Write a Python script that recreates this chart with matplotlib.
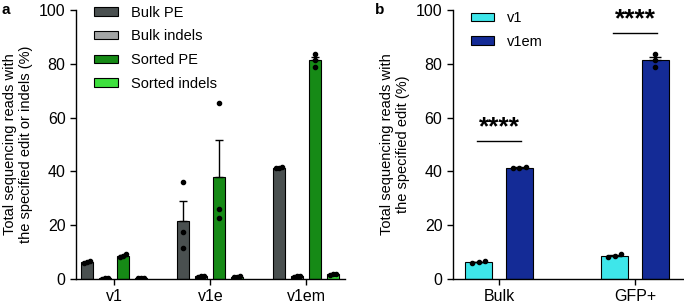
import numpy as np
import matplotlib.pyplot as plt

plt.rcParams['font.family'] = ['Liberation Sans', 'DejaVu Sans']
plt.rcParams['font.size'] = 10.5

# panel a data (replicates)
groups_a = ['v1', 'v1e', 'v1em']
series_a = ['Bulk PE', 'Bulk indels', 'Sorted PE', 'Sorted indels']
colors_a = ['#4a5050', '#a3a5a5', '#168a16', '#3ee03e']
reps_a = {
    'Bulk PE': [[5.8, 6.2, 6.6], [36.1, 17.5, 11.5], [41.1, 41.4, 41.7]],
    'Bulk indels': [[0.2, 0.3, 0.3], [0.8, 1.0, 1.1], [0.9, 1.0, 1.1]],
    'Sorted PE': [[8.1, 8.7, 9.3], [65.3, 26.2, 22.7], [83.6, 81.4, 78.9]],
    'Sorted indels': [[0.3, 0.4, 0.5], [0.7, 0.9, 1.1], [1.6, 1.8, 1.9]],
}

# panel b data (replicates)
groups_b = ['Bulk', 'GFP+']
series_b = ['v1', 'v1em']
colors_b = ['#3ee6ea', '#142b96']
reps_b = {
    'v1': [[5.8, 6.2, 6.6], [8.1, 8.7, 9.3]],
    'v1em': [[41.1, 41.4, 41.7], [83.6, 81.4, 78.9]],
}
sig_b = ['****', '****']
sig_line_b = [51.3, 91.4]


def draw_bar(ax, x, vals, width, color):
    vals = np.array(vals)
    mean = vals.mean()
    sem = vals.std(ddof=1) / np.sqrt(len(vals))
    ax.bar(x, mean, width, color=color, edgecolor='black', linewidth=0.8, zorder=2)
    ax.errorbar(x, mean, yerr=[[0], [sem]], fmt='none', ecolor='black',
                elinewidth=1.0, capsize=width * 22, capthick=1.0, zorder=3)
    if np.ptp(vals) < 3:
        offs = np.array([-0.25, 0, 0.25]) * width
    else:
        offs = np.zeros(len(vals))
    ax.plot(x + offs, vals, 'o', color='black', markersize=3, zorder=4)


def style(ax):
    ax.spines['top'].set_visible(False)
    ax.spines['right'].set_visible(False)
    for s in ['left', 'bottom']:
        ax.spines[s].set_linewidth(1.0)
    ax.tick_params(direction='out', length=4, width=1.0, labelsize=11.5)
    ax.set_ylim(0, 100)
    ax.set_yticks([0, 20, 40, 60, 80, 100])


fig = plt.figure(figsize=(6.84, 3.04), dpi=100)

ax1 = fig.add_axes([0.111, 0.082, 0.393, 0.885])
w = 0.125
step = 0.1875
for i, s in enumerate(series_a):
    for j in range(len(groups_a)):
        draw_bar(ax1, j + (i - 1.5) * step, reps_a[s][j], w, colors_a[i])
    ax1.bar(np.nan, 0, color=colors_a[i], edgecolor='black', linewidth=0.8, label=s)
style(ax1)
ax1.set_xlim(-0.4, 2.4)
ax1.set_xticks(range(len(groups_a)))
ax1.set_xticklabels(groups_a)
ax1.set_ylabel('Total sequencing reads with\nthe specified edit or indels (%)',
               fontsize=10.5, labelpad=4)
ax1.legend(loc='upper left', bbox_to_anchor=(0.02, 1.065), frameon=False,
           handlelength=1.6, handleheight=0.5, handletextpad=0.9, labelspacing=0.66)

ax2 = fig.add_axes([0.662, 0.082, 0.338, 0.885])
w2 = 0.2
off2 = 0.15
for i, s in enumerate(series_b):
    for j in range(len(groups_b)):
        draw_bar(ax2, j + (i - 0.5) * 2 * off2, reps_b[s][j], w2, colors_b[i])
    ax2.bar(np.nan, 0, color=colors_b[i], edgecolor='black', linewidth=0.8, label=s)
for j in range(len(groups_b)):
    ax2.plot([j - 0.16, j + 0.16], [sig_line_b[j]] * 2, color='black', linewidth=1.0)
    ax2.text(j, sig_line_b[j] + 2.5, sig_b[j], ha='center', va='baseline',
             fontsize=19, fontweight='bold')
style(ax2)
ax2.set_xlim(-0.34, 1.36)
ax2.set_xticks(range(len(groups_b)))
ax2.set_xticklabels(groups_b)
ax2.set_ylabel('Total sequencing reads with\nthe specified edit (%)',
               fontsize=10.5, labelpad=4)
ax2.legend(loc='upper left', bbox_to_anchor=(0.02, 1.045), frameon=False,
           handlelength=1.6, handleheight=0.5, handletextpad=0.9, labelspacing=0.66)

fig.text(0.002, 0.99, 'a', fontsize=11, fontweight='bold', va='top')
fig.text(0.548, 0.99, 'b', fontsize=11, fontweight='bold', va='top')

fig.savefig('out.png', dpi=100)
